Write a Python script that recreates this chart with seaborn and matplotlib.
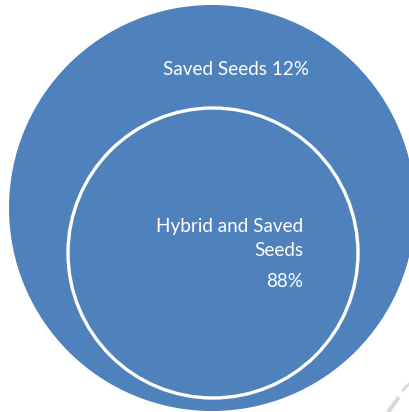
import matplotlib
matplotlib.use('Agg')
import matplotlib.pyplot as plt
import seaborn as sns
from matplotlib.patches import Circle

# data
categories = ['Saved Seeds', 'Hybrid and Saved Seeds']
shares = [12, 88]
label_lines = [['Saved Seeds 12%'], ['Hybrid and Saved', 'Seeds', '88%']]

sns.set_theme(style='white')
plt.rcParams['font.family'] = ['Lato', 'DejaVu Sans']

blue = '#4F81BD'

fig = plt.figure(figsize=(4.10, 4.12), dpi=100)
ax = fig.add_axes([0, 0, 1, 1])
ax.set_xlim(0, 410)
ax.set_ylim(412, 0)
ax.set_aspect('equal')
ax.axis('off')

# outer circle (Saved Seeds) and inner circle (Hybrid and Saved Seeds)
outer = Circle((212, 208), 203, facecolor=blue, edgecolor='none', zorder=1)
inner = Circle((213, 253), 145, facecolor=blue, edgecolor='white', linewidth=2.4, zorder=2)
ax.add_patch(outer)
ax.add_patch(inner)

# labels
fs = 13.6
ax.text(309, 75, label_lines[0][0], color='white', fontsize=fs,
        ha='right', va='baseline', zorder=3)
y_lines = [232, 256, 287]
for txt, y in zip(label_lines[1], y_lines):
    ax.text(303, y, txt, color='white', fontsize=fs, ha='right', va='baseline', zorder=3)

# faint page-curl artifact bottom right
ax.plot([388, 399], [412, 397], color='#d9d9d9', linewidth=3, solid_capstyle='butt', zorder=0)
ax.plot([402, 410], [391, 383], color='#d9d9d9', linewidth=2, solid_capstyle='butt', zorder=0)

fig.savefig('out.png', dpi=100)
